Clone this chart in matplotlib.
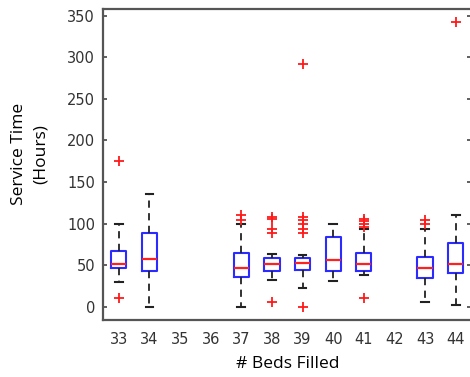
import matplotlib
matplotlib.use("Agg")
from matplotlib import pyplot as plt

# beds filled (x categories) and box statistics
beds = [33, 34, 37, 38, 39, 40, 41, 43, 44]
whis_lo = [30, 0, 0, 32, 22, 31, 38, 6, 2]
q1 = [47, 43, 36, 43, 44, 43, 43, 34, 41]
med = [51, 57, 47, 51, 53, 56, 51, 47, 51]
q3 = [67, 89, 64, 58, 58, 84, 64, 60, 77]
whis_hi = [99, 136, 100, 63, 62, 100, 93, 94, 110]
fliers = [
    [11, 175],
    [],
    [104, 110],
    [6, 89, 94, 105, 108],
    [0, 89, 94, 99, 104, 108, 292],
    [],
    [11, 96, 99, 103, 106],
    [100, 104],
    [342],
]
x_ticks = list(range(33, 45))
y_ticks = list(range(0, 351, 50))

stats = []
for i in range(len(beds)):
    stats.append({"med": med[i], "q1": q1[i], "q3": q3[i],
                  "whislo": whis_lo[i], "whishi": whis_hi[i],
                  "fliers": fliers[i]})

fig = plt.figure(figsize=(4.7, 3.77), dpi=100)
ax = fig.add_axes([0.2202, 0.1512, 0.782, 0.825])

ax.bxp(stats, positions=beds, widths=0.5, capwidths=0.25,
       boxprops=dict(color="#2b2bff", linewidth=1.5),
       medianprops=dict(color="#ff2020", linewidth=1.6),
       whiskerprops=dict(color="#222222", linewidth=1.3, linestyle=(0, (4, 3))),
       capprops=dict(color="#222222", linewidth=1.5),
       flierprops=dict(marker="+", markeredgecolor="#ff1a1a", markersize=7.5,
                       markeredgewidth=1.3, linestyle="none"))

ax.set_xlim(32.5, 44.5)
ax.set_ylim(-16, 358)
ax.set_xticks(x_ticks)
ax.set_xticklabels([str(b) for b in x_ticks])
ax.set_yticks(y_ticks)

for s in ax.spines.values():
    s.set_color("#555555")
    s.set_linewidth(1.6)

ax.tick_params(axis="x", length=0, pad=9, labelsize=10.5, labelcolor="#333333")
ax.tick_params(axis="y", direction="in", length=3, width=1.2, color="#444444",
               right=True, pad=6, labelsize=10.5, labelcolor="#333333")

ax.set_xlabel("# Beds Filled", fontname="Open Sans", fontsize=12.5, labelpad=6)
ax.set_ylabel("Service Time\n(Hours)", fontname="Open Sans", fontsize=12.5,
              linespacing=1.5)
ax.yaxis.set_label_coords(-0.148, 0.535)

fig.savefig("out.png", dpi=100)
